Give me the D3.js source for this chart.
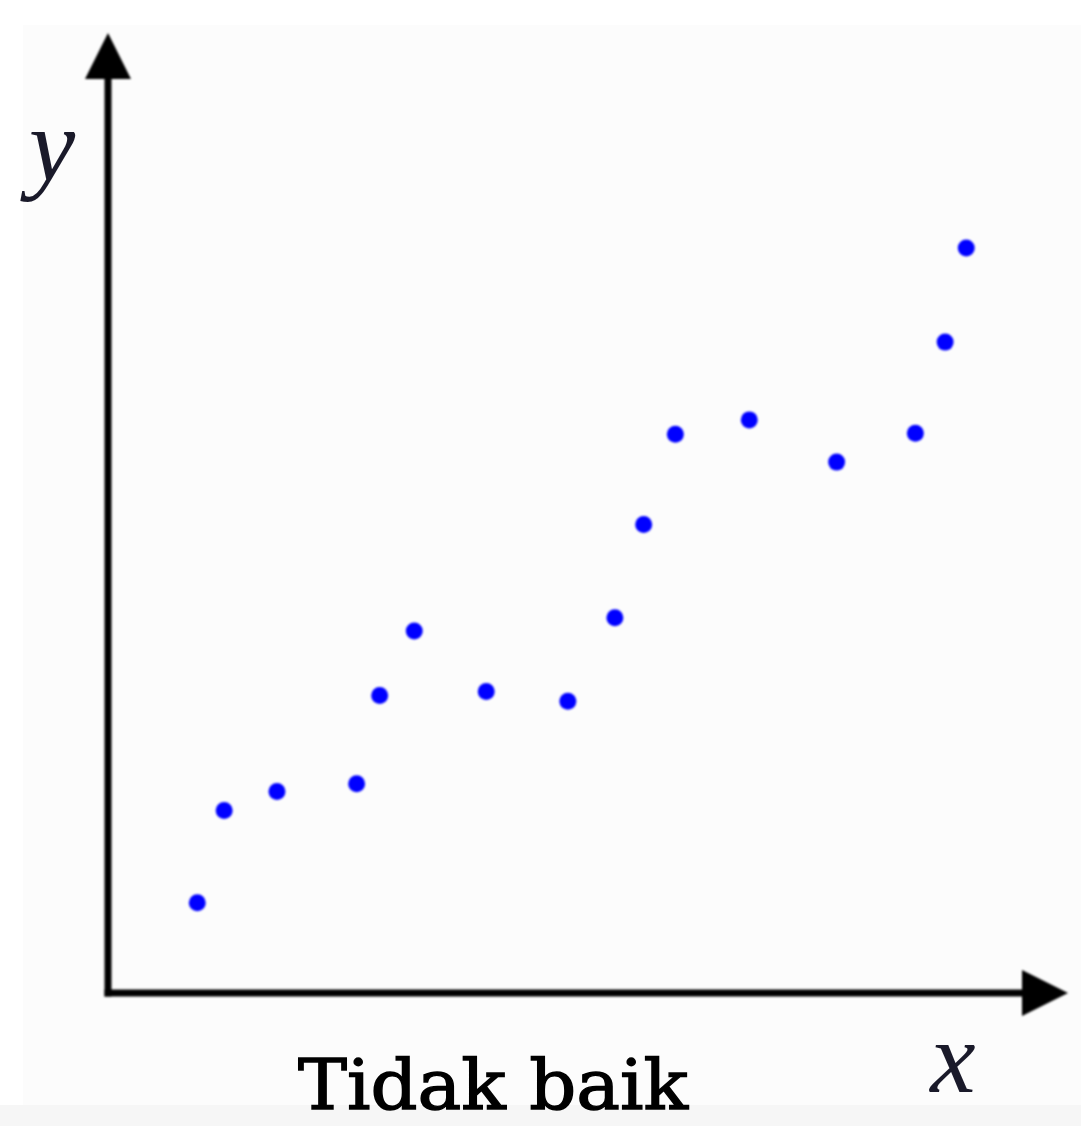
<!DOCTYPE html>
<html>
<head>
<meta charset="utf-8">
<script src="https://cdn.jsdelivr.net/npm/d3@7"></script>
<style>
  html, body { margin: 0; padding: 0; background: #ffffff; }
  svg { display: block; }
</style>
</head>
<body>
<svg id="chart" width="1081" height="1126"></svg>
<script>
// Scatter sample: x and y readings (arbitrary units, 0–100 on each axis)
const xValues = [9.3, 12.1, 17.6, 25.9, 28.3, 31.9, 39.4, 47.9, 52.8, 55.8, 59.1, 66.8, 75.9, 84.1, 87.2, 89.4];
const yValues = [9.4, 19.0, 21.0, 21.8, 31.0, 37.7, 31.4, 30.4, 39.1, 48.8, 58.2, 59.7, 55.3, 58.3, 67.8, 77.6];
const axisLabels = ["x", "y"];
const caption = "Tidak baik";

const svg = d3.select("#chart");
const W = 1081, H = 1126;

// panel background
svg.append("rect").attr("x", 23).attr("y", 25).attr("width", W - 23).attr("height", 1080)
  .attr("fill", "#fcfcfc");
svg.append("rect").attr("x", 0).attr("y", 1105).attr("width", W).attr("height", H - 1105)
  .attr("fill", "#f6f6f6");

const x = d3.scaleLinear().domain([0, 100]).range([108, 1068]);
const y = d3.scaleLinear().domain([0, 100]).range([993, 33]);

const defs = svg.append("defs");
defs.append("filter").attr("id", "soft")
  .append("feGaussianBlur").attr("stdDeviation", 0.9);

const axes = svg.append("g").attr("filter", "url(#soft)");
const headLen = 46, headHalf = 23;

// vertical axis with arrowhead
axes.append("line")
  .attr("x1", x(0)).attr("y1", y(0) + 3.5)
  .attr("x2", x(0)).attr("y2", y(100) + headLen - 2)
  .attr("stroke", "#000").attr("stroke-width", 7);
axes.append("path")
  .attr("d", d3.line()([
    [x(0), y(100)],
    [x(0) - headHalf, y(100) + headLen],
    [x(0) + headHalf, y(100) + headLen]
  ]) + "Z")
  .attr("fill", "#000");

// horizontal axis with arrowhead
axes.append("line")
  .attr("x1", x(0) - 3.5).attr("y1", y(0))
  .attr("x2", x(100) - headLen + 2).attr("y2", y(0))
  .attr("stroke", "#000").attr("stroke-width", 7);
axes.append("path")
  .attr("d", d3.line()([
    [x(100), y(0)],
    [x(100) - headLen, y(0) - headHalf],
    [x(100) - headLen, y(0) + headHalf]
  ]) + "Z")
  .attr("fill", "#000");

// data points
svg.append("g").attr("filter", "url(#soft)")
  .selectAll("circle")
  .data(xValues.map((v, i) => [v, yValues[i]]))
  .join("circle")
  .attr("cx", d => x(d[0]))
  .attr("cy", d => y(d[1]))
  .attr("r", 8.5)
  .attr("fill", "#0000ff");

// axis letters
svg.append("text")
  .attr("x", 52).attr("y", 180)
  .attr("text-anchor", "middle")
  .attr("font-family", "'Liberation Serif', serif")
  .attr("font-style", "italic")
  .attr("font-size", 104)
  .attr("fill", "#1a1a2a")
  .text(axisLabels[1]);

svg.append("text")
  .attr("x", 953).attr("y", 1092)
  .attr("text-anchor", "middle")
  .attr("font-family", "'Liberation Serif', serif")
  .attr("font-style", "italic")
  .attr("font-size", 102)
  .attr("fill", "#1a1a2a")
  .text(axisLabels[0]);

// caption
svg.append("text")
  .attr("x", 298).attr("y", 1109)
  .attr("font-family", "'DejaVu Serif', serif")
  .attr("font-size", 70)
  .attr("textLength", 390)
  .attr("lengthAdjust", "spacingAndGlyphs")
  .attr("fill", "#000")
  .attr("stroke", "#000")
  .attr("stroke-width", 1.4)
  .text(caption);
</script>
</body>
</html>
